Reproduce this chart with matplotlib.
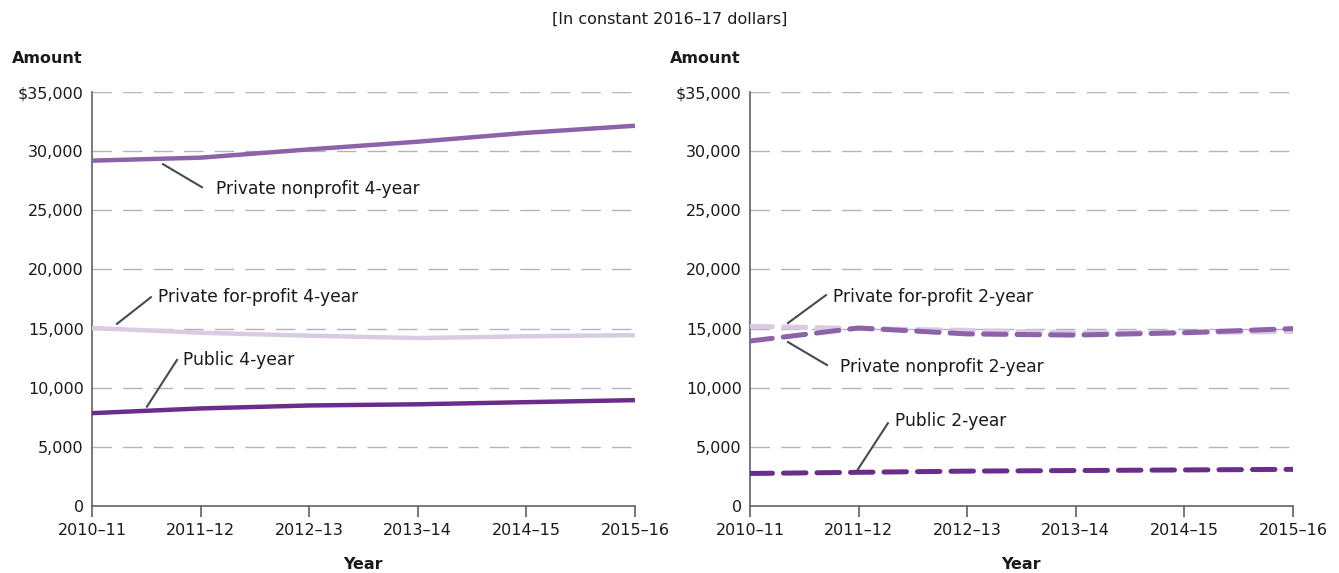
"""
Average net price by institution type, 2010-11 to 2015-16
"""
import matplotlib.pyplot as plt

YEARS = ['2010\u201311', '2011\u201312', '2012\u201313', '2013\u201314', '2014\u201315', '2015\u201316']

# 4-year institutions
PUBLIC_4 = [7850, 8250, 8500, 8600, 8780, 8950]
NONPROFIT_4 = [29200, 29450, 30150, 30800, 31550, 32150]
FORPROFIT_4 = [15050, 14650, 14400, 14200, 14350, 14450]

# 2-year institutions
PUBLIC_2 = [2750, 2850, 2950, 3000, 3050, 3100]
NONPROFIT_2 = [13950, 15050, 14550, 14450, 14650, 15000]
FORPROFIT_2 = [15200, 15000, 14850, 14650, 14650, 14750]

Y_TICKS = [0, 5000, 10000, 15000, 20000, 25000, 30000, 35000]
Y_LABELS = ['0', '5,000', '10,000', '15,000', '20,000', '25,000', '30,000', '$35,000']

DARK = '#6b2d8c'
MEDIUM = '#8d62a8'
LIGHT = '#dacbe3'
AXIS_COLOR = '#5c6070'
GRID_COLOR = '#b3b3bf'
TEXT_COLOR = '#1a1a1a'
LEADER_COLOR = '#454a58'

plt.rcParams['font.family'] = ['DejaVu Sans']
plt.rcParams['font.size'] = 11.5

FIG = plt.figure(figsize=(13.39, 5.73), dpi=100)
AX_L = FIG.add_axes([0.0687, 0.1169, 0.4055, 0.7225])
AX_R = FIG.add_axes([0.5601, 0.1169, 0.4055, 0.7225])

X_POS = list(range(len(YEARS)))


def style_axes(ax):
    ax.set_xlim(0, len(YEARS) - 1)
    ax.set_ylim(0, 35000)
    ax.set_yticks(Y_TICKS)
    ax.set_yticklabels(Y_LABELS, color=TEXT_COLOR)
    ax.set_xticks(X_POS)
    ax.set_xticklabels(YEARS, color=TEXT_COLOR)
    ax.tick_params(axis='y', length=0, pad=6)
    ax.tick_params(axis='x', length=8, width=1.2, color=AXIS_COLOR, pad=4)
    for side in ['top', 'right']:
        ax.spines[side].set_visible(False)
    for side in ['left', 'bottom']:
        ax.spines[side].set_color(AXIS_COLOR)
        ax.spines[side].set_linewidth(1.2)
    for val in Y_TICKS[1:]:
        ax.axhline(val, color=GRID_COLOR, lw=1.0, dashes=(14, 8), zorder=1)
    ax.set_xlabel('Year', fontweight='bold', labelpad=14, color=TEXT_COLOR)
    ax.text(-0.148, 1.08, 'Amount', transform=ax.transAxes, fontweight='bold',
            color=TEXT_COLOR, va='center', ha='left')


def label(ax, text, start, end, text_pos):
    # leader line from the series to the label, then the label itself
    ax.plot([start[0], end[0]], [start[1], end[1]], color=LEADER_COLOR, lw=1.5,
            clip_on=False, zorder=4)
    ax.text(text_pos[0], text_pos[1], text, va='center', ha='left',
            color=TEXT_COLOR, fontsize=12.3)


style_axes(AX_L)
style_axes(AX_R)

# solid lines for the 4-year panel
AX_L.plot(X_POS, NONPROFIT_4, color=MEDIUM, lw=3.2, solid_capstyle='butt', zorder=3)
AX_L.plot(X_POS, FORPROFIT_4, color=LIGHT, lw=3.2, solid_capstyle='butt', zorder=3)
AX_L.plot(X_POS, PUBLIC_4, color=DARK, lw=3.2, solid_capstyle='butt', zorder=3)

label(AX_L, 'Private nonprofit 4-year', (0.654, 28900), (1.013, 26950), (1.142, 26800))
label(AX_L, 'Private for-profit 4-year', (0.23, 15400), (0.543, 17650), (0.608, 17700))
label(AX_L, 'Public 4-year', (0.506, 8400), (0.783, 12350), (0.838, 12350))

# dashed lines for the 2-year panel
DASH = dict(lw=3.6, dashes=(4.5, 2.2), dash_capstyle='round', zorder=3)
AX_R.plot(X_POS, FORPROFIT_2, color=LIGHT, **DASH)
AX_R.plot(X_POS, NONPROFIT_2, color=MEDIUM, **DASH)
AX_R.plot(X_POS, PUBLIC_2, color=DARK, **DASH)

label(AX_R, 'Private for-profit 2-year', (0.35, 15470), (0.70, 17830), (0.764, 17700))
label(AX_R, 'Private nonprofit 2-year', (0.35, 13860), (0.709, 11920), (0.829, 11750))
label(AX_R, 'Public 2-year', (0.994, 3100), (1.27, 7000), (1.335, 7200))

FIG.text(0.5, 0.967, '[In constant 2016\u201317 dollars]', ha='center', va='center',
         color=TEXT_COLOR)

FIG.savefig('out.png', dpi=100)
